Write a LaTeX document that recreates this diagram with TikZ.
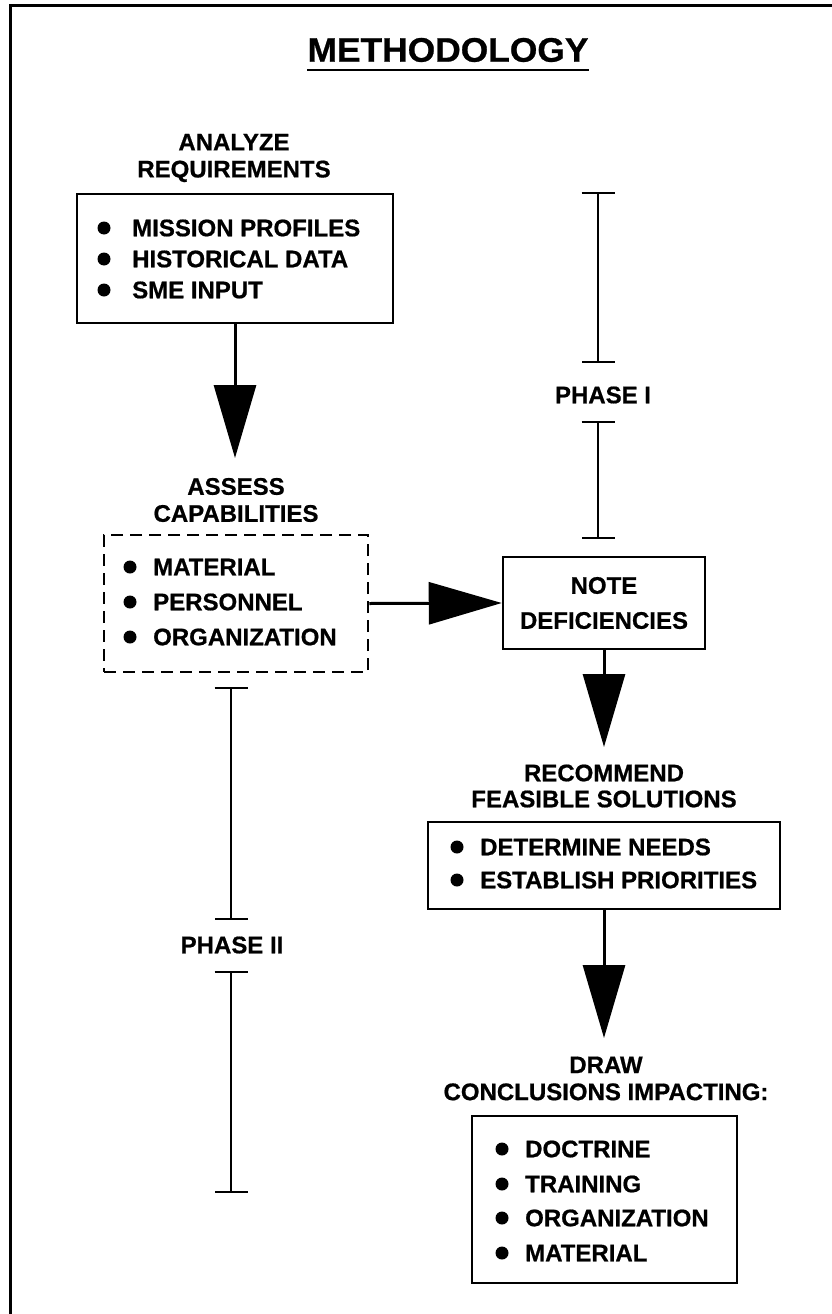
\documentclass[tikz,border=0pt]{standalone}
\usepackage{fontspec}
\newfontfamily\hv{Liberation Sans}[BoldFeatures={FakeBold=0.7}]
\usetikzlibrary{arrows.meta}
\tikzset{
  txt/.style={font=\hv\bfseries\fontsize{24}{27}\selectfont, inner sep=0pt},
  label2/.style={txt, align=center},
  item/.style={txt, anchor=west},
  dot/.style={circle, fill=black, inner sep=0pt, minimum size=13pt},
  boxed/.style={draw, line width=2.5pt, inner sep=0pt},
  dashbox/.style={draw, line width=2.5pt, inner sep=0pt, dash pattern=on 12pt off 7pt},
  bigarrow/.style={line width=3pt, -{Triangle[width=42pt,length=73pt]}},
  phasebar/.style={line width=2pt, {Bar[width=33pt]}-{Bar[width=33pt]}},
}
\begin{document}
\begin{tikzpicture}[x=1pt, y=-1pt]
\useasboundingbox (0,0) rectangle (832,1314);

% outer frame (top and left edges)
\draw[line width=3pt] (10,1314) -- (10,6) -- (832,6);

% title
\node[txt, font=\hv\bfseries\fontsize{34}{38}\selectfont, xscale=1.04] (title) at (448,50) {METHODOLOGY};
\draw[line width=2.5pt] ([yshift=-8pt]title.south west) -- ([yshift=-8pt]title.south east);

% step 1: analyze requirements
\node[label2] (analyze) at (234,158) {ANALYZE\\REQUIREMENTS};
\node[boxed, minimum width=316pt, minimum height=129pt] (box1) at (235,258.5) {};
\foreach \t/\y [count=\i] in {MISSION PROFILES/228, HISTORICAL DATA/259, SME INPUT/290}{
  \node[dot] (b1d\i) at (104,\y) {};
  \node[item] (b1t\i) at (132,\y) {\t};
}

% step 2: assess capabilities
\node[label2] (assess) at (236,500) {ASSESS\\CAPABILITIES};
\node[dashbox, minimum width=264pt, minimum height=137pt] (box2) at (236,603.5) {};
\foreach \t/\y [count=\i] in {MATERIAL/567, PERSONNEL/602, ORGANIZATION/637}{
  \node[dot] (b2d\i) at (130,\y) {};
  \node[item] (b2t\i) at (153,\y) {\t};
}

% step 3: note deficiencies
\node[boxed, minimum width=202pt, minimum height=92pt, txt, align=center,
      font=\hv\bfseries\fontsize{24}{35}\selectfont] (box3) at (604,603) {NOTE\\DEFICIENCIES};

% step 4: recommend feasible solutions
\node[label2, font=\hv\bfseries\fontsize{24}{26}\selectfont] (recommend) at (604,786) {RECOMMEND\\FEASIBLE SOLUTIONS};
\node[boxed, minimum width=352pt, minimum height=87pt] (box4) at (604,865.5) {};
\foreach \t/\y [count=\i] in {DETERMINE NEEDS/847, ESTABLISH PRIORITIES/880}{
  \node[dot] (b4d\i) at (457,\y) {};
  \node[item] (b4t\i) at (480,\y) {\t};
}

% step 5: draw conclusions
\node[label2] (conclude) at (606,1078.5) {DRAW\\CONCLUSIONS IMPACTING:};
\node[boxed, minimum width=265pt, minimum height=167pt] (box5) at (604.5,1199.5) {};
\foreach \t/\y [count=\i] in {DOCTRINE/1149, TRAINING/1184, ORGANIZATION/1218, MATERIAL/1253}{
  \node[dot] (b5d\i) at (502,\y) {};
  \node[item] (b5t\i) at (525,\y) {\t};
}

% flow arrows
\coordinate (tip1) at (235,458);
\coordinate (tip3) at (604,747);
\coordinate (tip4) at (604,1038);
\draw[bigarrow] (box1.south) -- (tip1);
\draw[bigarrow] (box2.east) -- (box3.west);
\draw[bigarrow] (box3.south) -- (tip3);
\draw[bigarrow] (box4.south) -- (tip4);

% phase markers
\node[txt] (phase1) at (603,395) {PHASE I};
\coordinate (p1a) at (598,192);
\coordinate (p1b) at (598,363);
\coordinate (p1c) at (598,421);
\coordinate (p1d) at (598,539);
\draw[phasebar] (p1a) -- (p1b);
\draw[phasebar] (p1c) -- (p1d);

\node[txt] (phase2) at (232,945) {PHASE II};
\coordinate (p2a) at (231,687);
\coordinate (p2b) at (231,920);
\coordinate (p2c) at (231,971);
\coordinate (p2d) at (231,1193);
\draw[phasebar] (p2a) -- (p2b);
\draw[phasebar] (p2c) -- (p2d);
\end{tikzpicture}
\end{document}
